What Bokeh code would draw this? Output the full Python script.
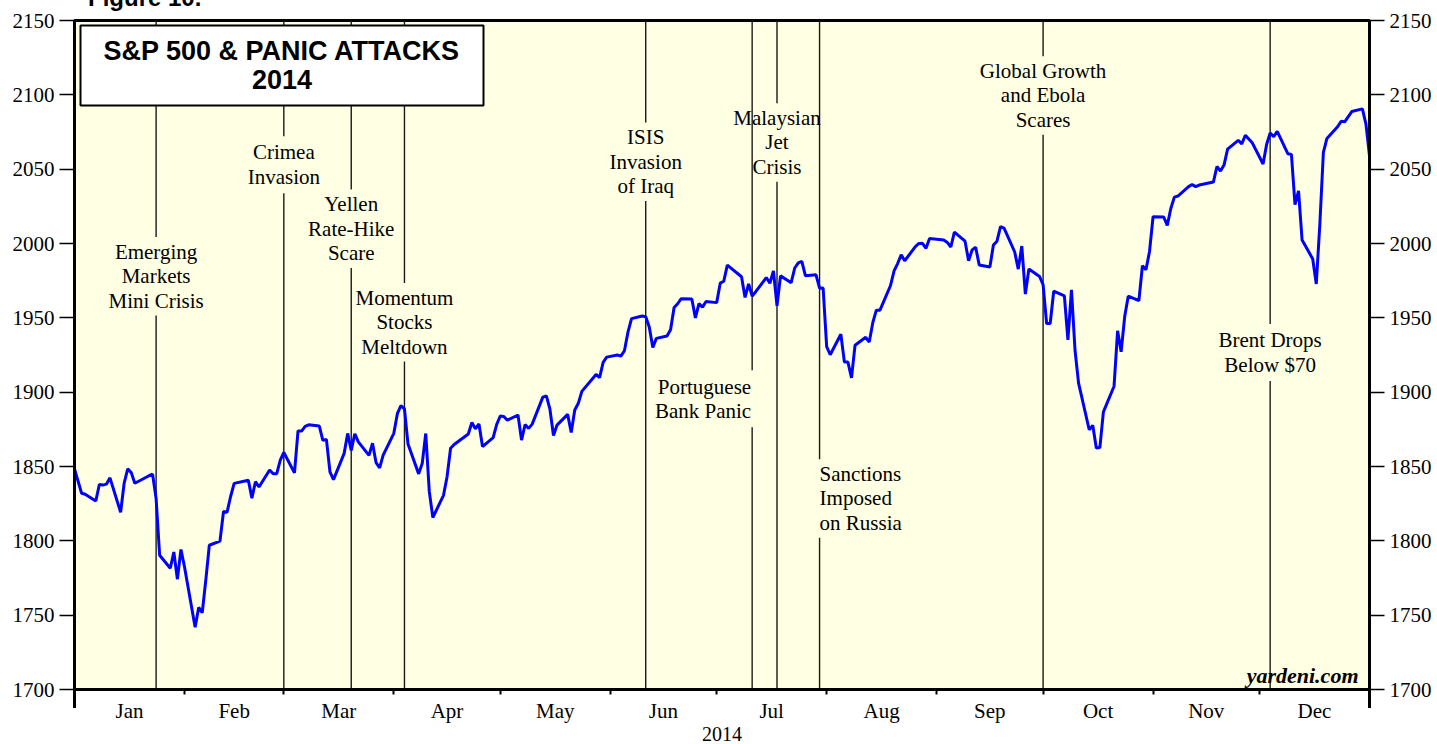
import pandas as pd
from bokeh.plotting import figure
from bokeh.layouts import column
from bokeh.models import (Range1d, LinearAxis, FixedTicker, ColumnDataSource, Div,
                          BoxAnnotation, Label, CustomJSTickFormatter)
from bokeh.core.properties import value
from bokeh.embed import file_html
from bokeh.resources import INLINE

# ---------------- data ----------------
dates = [
    "2013-12-31",
    "2014-01-02", "2014-01-03", "2014-01-06", "2014-01-07", "2014-01-08", "2014-01-09", "2014-01-10",
    "2014-01-13", "2014-01-14", "2014-01-15", "2014-01-16", "2014-01-17", "2014-01-21", "2014-01-22",
    "2014-01-23", "2014-01-24", "2014-01-27", "2014-01-28", "2014-01-29", "2014-01-30", "2014-01-31",
    "2014-02-03", "2014-02-04", "2014-02-05", "2014-02-06", "2014-02-07", "2014-02-10", "2014-02-11",
    "2014-02-12", "2014-02-13", "2014-02-14", "2014-02-18", "2014-02-19", "2014-02-20", "2014-02-21",
    "2014-02-24", "2014-02-25", "2014-02-26", "2014-02-27", "2014-02-28",
    "2014-03-03", "2014-03-04", "2014-03-05", "2014-03-06", "2014-03-07", "2014-03-10", "2014-03-11",
    "2014-03-12", "2014-03-13", "2014-03-14", "2014-03-17", "2014-03-18", "2014-03-19", "2014-03-20",
    "2014-03-21", "2014-03-24", "2014-03-25", "2014-03-26", "2014-03-27", "2014-03-28", "2014-03-31",
    "2014-04-01", "2014-04-02", "2014-04-03", "2014-04-04", "2014-04-07", "2014-04-08", "2014-04-09",
    "2014-04-10", "2014-04-11", "2014-04-14", "2014-04-15", "2014-04-16", "2014-04-17", "2014-04-21",
    "2014-04-22", "2014-04-23", "2014-04-24", "2014-04-25", "2014-04-28", "2014-04-29", "2014-04-30",
    "2014-05-01", "2014-05-02", "2014-05-05", "2014-05-06", "2014-05-07", "2014-05-08", "2014-05-09",
    "2014-05-12", "2014-05-13", "2014-05-14", "2014-05-15", "2014-05-16", "2014-05-19", "2014-05-20",
    "2014-05-21", "2014-05-22", "2014-05-23", "2014-05-27", "2014-05-28", "2014-05-29", "2014-05-30",
    "2014-06-02", "2014-06-03", "2014-06-04", "2014-06-05", "2014-06-06", "2014-06-09", "2014-06-10",
    "2014-06-11", "2014-06-12", "2014-06-13", "2014-06-16", "2014-06-17", "2014-06-18", "2014-06-19",
    "2014-06-20", "2014-06-23", "2014-06-24", "2014-06-25", "2014-06-26", "2014-06-27", "2014-06-30",
    "2014-07-01", "2014-07-02", "2014-07-03", "2014-07-07", "2014-07-08", "2014-07-09", "2014-07-10",
    "2014-07-11", "2014-07-14", "2014-07-15", "2014-07-16", "2014-07-17", "2014-07-18", "2014-07-21",
    "2014-07-22", "2014-07-23", "2014-07-24", "2014-07-25", "2014-07-28", "2014-07-29", "2014-07-30",
    "2014-07-31", "2014-08-01", "2014-08-04", "2014-08-05", "2014-08-06", "2014-08-07", "2014-08-08",
    "2014-08-11", "2014-08-12", "2014-08-13", "2014-08-14", "2014-08-15", "2014-08-18", "2014-08-19",
    "2014-08-20", "2014-08-21", "2014-08-22", "2014-08-25", "2014-08-26", "2014-08-27", "2014-08-28",
    "2014-08-29", "2014-09-02", "2014-09-03", "2014-09-04", "2014-09-05", "2014-09-08", "2014-09-09",
    "2014-09-10", "2014-09-11", "2014-09-12", "2014-09-15", "2014-09-16", "2014-09-17", "2014-09-18",
    "2014-09-19", "2014-09-22", "2014-09-23", "2014-09-24", "2014-09-25", "2014-09-26", "2014-09-29",
    "2014-09-30", "2014-10-01", "2014-10-02", "2014-10-03", "2014-10-06", "2014-10-07", "2014-10-08",
    "2014-10-09", "2014-10-10", "2014-10-13", "2014-10-14", "2014-10-15", "2014-10-16", "2014-10-17",
    "2014-10-20", "2014-10-21", "2014-10-22", "2014-10-23", "2014-10-24", "2014-10-27", "2014-10-28",
    "2014-10-29", "2014-10-30", "2014-10-31", "2014-11-03", "2014-11-04", "2014-11-05", "2014-11-06",
    "2014-11-07", "2014-11-10", "2014-11-11", "2014-11-12", "2014-11-13", "2014-11-14", "2014-11-17",
    "2014-11-18", "2014-11-19", "2014-11-20", "2014-11-21", "2014-11-24", "2014-11-25", "2014-11-26",
    "2014-11-28", "2014-12-01", "2014-12-02", "2014-12-03", "2014-12-04", "2014-12-05", "2014-12-08",
    "2014-12-09", "2014-12-10", "2014-12-11", "2014-12-12", "2014-12-15", "2014-12-16", "2014-12-17",
    "2014-12-18", "2014-12-19", "2014-12-22", "2014-12-23", "2014-12-24", "2014-12-26", "2014-12-29",
    "2014-12-30", "2014-12-31",
]

sp500 = [
    1848.36,
    1831.98, 1831.37, 1826.77, 1837.88, 1837.49, 1838.13, 1842.37,
    1819.20, 1838.88, 1848.38, 1845.89, 1838.70, 1843.80, 1844.86,
    1828.46, 1790.29, 1781.56, 1792.50, 1774.20, 1794.19, 1782.59,
    1741.89, 1755.20, 1751.64, 1773.43, 1797.02, 1799.84, 1819.75,
    1819.26, 1829.83, 1838.63, 1840.76, 1828.75, 1839.78, 1836.25,
    1847.61, 1845.12, 1845.16, 1854.29, 1859.45,
    1845.73, 1873.91, 1873.81, 1877.03, 1878.04, 1877.17, 1867.63,
    1868.20, 1846.34, 1841.13, 1858.83, 1872.25, 1860.77, 1872.01,
    1866.52, 1857.44, 1865.62, 1852.56, 1849.04, 1857.62, 1872.34,
    1885.52, 1890.90, 1888.77, 1865.09, 1845.04, 1851.96, 1872.18,
    1833.08, 1815.69, 1830.61, 1842.98, 1862.31, 1864.85, 1871.89,
    1879.55, 1875.39, 1878.61, 1863.40, 1869.43, 1878.33, 1883.95,
    1883.68, 1881.14, 1884.66, 1867.72, 1878.21, 1875.63, 1878.48,
    1896.65, 1897.45, 1888.53, 1870.85, 1877.86, 1885.08, 1872.83,
    1888.03, 1892.49, 1900.53, 1911.91, 1909.78, 1920.03, 1923.57,
    1924.97, 1924.24, 1927.88, 1940.46, 1949.44, 1951.27, 1950.79,
    1943.89, 1930.11, 1936.16, 1937.78, 1941.99, 1956.98, 1959.48,
    1962.87, 1962.61, 1949.98, 1959.53, 1957.22, 1960.96, 1960.23,
    1973.32, 1974.62, 1985.44, 1977.65, 1963.71, 1972.83, 1964.68,
    1967.57, 1977.10, 1973.28, 1981.57, 1958.12, 1978.22, 1973.63,
    1983.53, 1987.01, 1987.98, 1978.34, 1978.91, 1969.95, 1970.07,
    1930.67, 1925.15, 1938.99, 1920.21, 1920.24, 1909.57, 1931.59,
    1936.92, 1933.75, 1946.72, 1955.18, 1955.06, 1971.74, 1981.60,
    1986.51, 1992.37, 1988.40, 1997.92, 2000.02, 2000.12, 1996.74,
    2003.37, 2002.28, 2000.72, 1997.65, 2007.71, 2001.54, 1988.44,
    1995.69, 1997.45, 1985.54, 1984.13, 1998.98, 2001.57, 2011.36,
    2010.40, 1994.29, 1982.77, 1998.30, 1965.99, 1982.85, 1977.80,
    1972.29, 1946.16, 1946.17, 1967.90, 1964.82, 1935.10, 1968.89,
    1928.21, 1906.13, 1874.74, 1877.70, 1862.49, 1862.76, 1886.76,
    1904.01, 1941.28, 1927.11, 1950.82, 1964.58, 1961.63, 1985.05,
    1982.30, 1994.65, 2018.05, 2017.81, 2012.10, 2023.57, 2031.21,
    2031.92, 2038.26, 2039.68, 2038.25, 2039.33, 2039.82, 2041.32,
    2051.80, 2048.72, 2052.75, 2063.50, 2069.41, 2067.03, 2072.83,
    2067.56, 2053.44, 2066.55, 2074.33, 2071.92, 2075.37, 2060.31,
    2059.82, 2026.14, 2035.33, 2002.33, 1989.63, 1972.74, 2012.89,
    2061.23, 2070.65, 2078.54, 2082.17, 2081.88, 2088.77, 2090.57,
    2080.35, 2058.90,
]

month_names = ["Jan", "Feb", "Mar", "Apr", "May", "Jun",
               "Jul", "Aug", "Sep", "Oct", "Nov", "Dec"]
month_end_dates = ["2014-01-31", "2014-02-28", "2014-03-31", "2014-04-30",
                   "2014-05-31", "2014-06-30", "2014-07-31", "2014-08-31",
                   "2014-09-30", "2014-10-31", "2014-11-30", "2014-12-31"]

y_ticks = [1700, 1750, 1800, 1850, 1900, 1950, 2000, 2050, 2100, 2150]

event_dates = ["2014-01-23", "2014-02-28", "2014-03-19", "2014-04-03", "2014-06-10",
               "2014-07-10", "2014-07-17", "2014-07-29", "2014-09-30", "2014-12-03"]
event_texts = ["Emerging\nMarkets\nMini Crisis", "Crimea\nInvasion", "Yellen\nRate-Hike\nScare",
               "Momentum\nStocks\nMeltdown", "ISIS\nInvasion\nof Iraq", "Portuguese\nBank Panic",
               "Malaysian\nJet\nCrisis", "Sanctions\nImposed\non Russia",
               "Global Growth\nand Ebola\nScares", "Brent Drops\nBelow $70"]

# ---------------- layout (annotation placement) ----------------
event_label_y = [1978, 2053, 2010, 1947, 2055, 1895.5, 2068, 1828.5, 2099.6, 1926.7]
event_align = ["center", "center", "center", "center", "center",
               "right", "center", "left", "center", "center"]

BASE = pd.Timestamp("2013-12-31")


def day(d):
    return (pd.Timestamp(d) - BASE).days


x_days = [day(d) for d in dates]
month_ends = [day(d) for d in month_end_dates]
month_starts = [0] + month_ends[:-1]
month_mids = [(a + b) / 2 for a, b in zip(month_starts, month_ends)]

YMIN, YMAX = 1700, 2150
XMIN, XMAX = 0, 365
FRAME_W, FRAME_H = 1295, 669
BORDER_L, BORDER_R, BORDER_T, BORDER_B = 74, 68, 20, 55
PX_PER_UNIT = FRAME_H / (YMAX - YMIN)
DAYS_PER_PX = (XMAX - XMIN) / FRAME_W
LINE_H_PX = 21.5
EVENT_FS = 21

SERIF = "Liberation Serif"
SANS = "Liberation Sans"

p = figure(frame_width=FRAME_W, frame_height=FRAME_H,
           x_range=Range1d(XMIN, XMAX), y_range=Range1d(YMIN, YMAX),
           output_backend="svg", toolbar_location=None,
           min_border_left=BORDER_L, min_border_right=BORDER_R,
           min_border_top=BORDER_T, min_border_bottom=BORDER_B,
           background_fill_color="#FFFFE3", border_fill_color="white")
p.grid.visible = False
p.outline_line_color = "black"
p.outline_line_width = 3

# x axis: month boundaries as small ticks, month names at mid-month, year below
xa = p.xaxis[0]
xa.ticker = FixedTicker(ticks=month_mids, minor_ticks=month_ends[:-1])
xa.formatter = CustomJSTickFormatter(args=dict(mids=month_mids, names=month_names), code="""
    for (let i = 0; i < mids.length; i++) {
        if (Math.abs(mids[i] - tick) < 0.01) { return names[i]; }
    }
    return "";
""")
xa.major_tick_out = 0
xa.major_tick_in = 0
xa.major_tick_line_color = None
xa.minor_tick_out = 5
xa.minor_tick_in = 0
xa.minor_tick_line_width = 2
xa.minor_tick_line_color = "black"
xa.axis_line_width = 3
xa.axis_line_color = "black"
xa.major_label_text_font = SERIF
xa.major_label_text_font_size = "21px"
xa.major_label_text_color = "black"
xa.major_label_standoff = 4
xa.axis_label = "2014"
xa.axis_label_text_font = SERIF
xa.axis_label_text_font_style = "normal"
xa.axis_label_text_font_size = "20px"
xa.axis_label_text_color = "black"
xa.axis_label_standoff = 1


def style_y(ax):
    ax.ticker = FixedTicker(ticks=y_ticks, minor_ticks=[])
    ax.major_tick_out = 15
    ax.major_tick_in = 0
    ax.minor_tick_out = 0
    ax.minor_tick_in = 0
    ax.major_tick_line_width = 1.5
    ax.major_tick_line_color = "black"
    ax.axis_line_width = 3
    ax.axis_line_color = "black"
    ax.major_label_text_font = SERIF
    ax.major_label_text_font_size = "21px"
    ax.major_label_text_color = "black"
    ax.major_label_standoff = 5


style_y(p.yaxis[0])
ra = LinearAxis()
style_y(ra)
p.add_layout(ra, "right")

# event lines with a gap around each label
ex = [day(d) for d in event_dates]
top_x, top_y0, top_y1, bot_y0, bot_y1 = [], [], [], [], []
for x, t, yc in zip(ex, event_texts, event_label_y):
    n = t.count("\n") + 1
    half = (n * LINE_H_PX / 2 + 7) / PX_PER_UNIT
    top_x.append(x)
    top_y0.append(YMAX)
    top_y1.append(yc + half)
    bot_y0.append(yc - half)
    bot_y1.append(YMIN)
seg_src = ColumnDataSource(dict(x=top_x + top_x, y0=top_y0 + bot_y0, y1=top_y1 + bot_y1))
p.segment(x0="x", y0="y0", x1="x", y1="y1", source=seg_src,
          line_color="#1a1a1a", line_width=1.4)

# S&P 500 line
src = ColumnDataSource(dict(x=x_days, y=sp500))
p.line("x", "y", source=src, line_color="#0000FF", line_width=3)

# event labels
for align, xoff in (("center", 0), ("right", -1), ("left", 0)):
    idx = [i for i, a in enumerate(event_align) if a == align]
    tsrc = ColumnDataSource(dict(x=[ex[i] for i in idx],
                                 y=[event_label_y[i] for i in idx],
                                 text=[event_texts[i] for i in idx]))
    p.text("x", "y", text="text", source=tsrc, text_align=align, text_baseline="middle",
           x_offset=xoff, text_font=value(SERIF), text_font_size=value(f"{EVENT_FS}px"),
           text_line_height=LINE_H_PX / EVENT_FS, text_color="black")

# title box
p.add_layout(BoxAnnotation(left=XMIN + 6 * DAYS_PER_PX, right=XMIN + 409 * DAYS_PER_PX,
                           top=YMAX - 5 / PX_PER_UNIT, bottom=YMAX - 85 / PX_PER_UNIT,
                           fill_color="white", fill_alpha=1.0,
                           line_color="black", line_alpha=1.0, line_width=2))
p.add_layout(Label(x=XMIN + 207.5 * DAYS_PER_PX, y=YMAX - 45 / PX_PER_UNIT,
                   text="S&P 500 & PANIC ATTACKS\n2014",
                   text_align="center", text_baseline="middle",
                   text_font=SANS, text_font_style="bold", text_font_size="27px",
                   text_line_height=0.96, text_color="black"))

# source credit
p.add_layout(Label(x=XMIN + 1284 * DAYS_PER_PX, y=YMIN + 14 / PX_PER_UNIT, text="yardeni.com",
                   text_align="right", text_baseline="middle",
                   text_font=SERIF, text_font_style="bold italic", text_font_size="22px",
                   text_color="black"))

# ---------------- page extras outside the plot canvas ----------------
PAGE_H = BORDER_T + FRAME_H + BORDER_B          # 744
AXIS_Y = BORDER_T + FRAME_H                     # bottom edge of the plot frame
CAP_H = 24

# figure caption, cut off at the top edge as in the original
caption = Div(text="Figure 10.", width=200, height=CAP_H, margin=(-(PAGE_H + 14), 0, 0, 88),
              styles={"font-family": SANS, "font-weight": "bold", "font-size": "24px",
                      "line-height": "24px", "color": "black"})
cap_bottom = -14 + CAP_H

# long ticks at both ends of the time axis
TICK_LEN, TICK_W = 19, 3
end_tick_left = Div(text="", width=TICK_W, height=TICK_LEN,
                    margin=(AXIS_Y - cap_bottom, 0, 0, BORDER_L - 1),
                    styles={"background-color": "black"})
end_tick_right = Div(text="", width=TICK_W, height=TICK_LEN,
                     margin=(-TICK_LEN, 0, 0, BORDER_L + FRAME_W - 1),
                     styles={"background-color": "black"})

layout = column(p, caption, end_tick_left, end_tick_right, spacing=0)
open("out.html", "w").write(file_html(layout, INLINE))
